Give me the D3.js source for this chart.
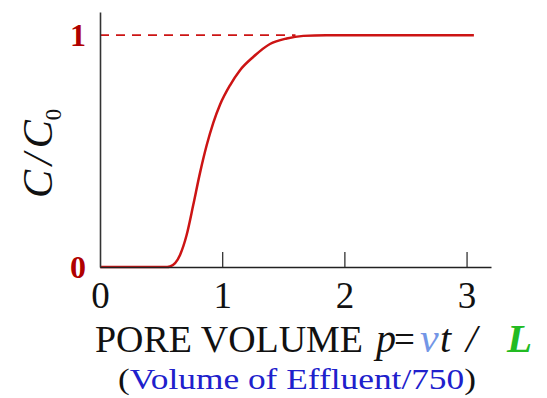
<!DOCTYPE html>
<html>
<head>
<meta charset="utf-8">
<script src="https://cdn.jsdelivr.net/npm/d3@7"></script>
<style>
  html, body { margin: 0; padding: 0; background: #fff; }
  svg { display: block; }
  text { font-family: "Liberation Serif", "Times New Roman", serif; }
</style>
</head>
<body>
<svg id="chart" width="547" height="398"></svg>
<script>
// Breakthrough curve: relative concentration vs. pore volumes
const poreVolume    = [0, 0.55, 0.573, 0.655, 0.709, 0.763, 0.818, 0.873, 0.927, 0.982, 1.064, 1.146, 1.254, 1.391, 1.528, 1.664, 1.85, 2.3, 2.8, 3.06];
const concentration = [0, 0,    0.002, 0.052, 0.138, 0.267, 0.405, 0.525, 0.622, 0.700, 0.784, 0.849, 0.906, 0.962, 0.986, 0.997, 1.0,  1.0, 1.0, 1.0];
const xTickValues = [0, 1, 2, 3];
const yTickValues = [0, 1];
const plateauLevel = 1;
const plateauDashEnd = 1.6;

const svg = d3.select("#chart");

const x = d3.scaleLinear().domain([0, 3.2]).range([100, 491]);
const y = d3.scaleLinear().domain([0, 1.1]).range([267, 12]);

const red = "#cc1414";
const darkRed = "#b00000";

// Dashed reference line at C/C0 = 1
svg.append("line")
  .attr("x1", x(0)).attr("x2", x(plateauDashEnd))
  .attr("y1", y(plateauLevel)).attr("y2", y(plateauLevel))
  .attr("stroke", red)
  .attr("stroke-width", 1.8)
  .attr("stroke-dasharray", "9,7");

// Curve
const pts = poreVolume.map((v, i) => [v, concentration[i]]);
svg.append("path")
  .datum(pts)
  .attr("fill", "none")
  .attr("stroke", red)
  .attr("stroke-width", 2.5)
  .attr("stroke-linejoin", "round")
  .attr("d", d3.line().x(d => x(d[0])).y(d => y(d[1])).curve(d3.curveMonotoneX));

// X axis
const xAxis = svg.append("g")
  .attr("transform", `translate(0,${y(0)})`)
  .call(d3.axisBottom(x).tickValues(xTickValues).tickFormat(d3.format("d"))
    .tickSize(-15).tickSizeOuter(0).tickPadding(15));
xAxis.select(".domain").attr("stroke", "#222").attr("stroke-width", 1.6);
xAxis.selectAll(".tick line").attr("stroke", "#333").attr("stroke-width", 1.3)
  .filter(d => d === 0).remove();
xAxis.selectAll(".tick text")
  .attr("font-family", "Liberation Serif, serif")
  .attr("font-size", 37)
  .attr("fill", "#111");

// Y axis
const yAxis = svg.append("g")
  .attr("transform", `translate(${x(0)},0)`)
  .call(d3.axisLeft(y).tickValues(yTickValues).tickFormat(d3.format("d"))
    .tickSize(0).tickSizeOuter(0).tickPadding(14));
yAxis.select(".domain").attr("stroke", "#333").attr("stroke-width", 1.6);
yAxis.selectAll(".tick text")
  .attr("font-family", "Liberation Serif, serif")
  .attr("font-size", 32)
  .attr("font-weight", "bold")
  .attr("fill", darkRed);

// Y axis title: C / C0
const yTitle = svg.append("text")
  .attr("transform", "translate(52,198) rotate(-90)")
  .attr("font-size", 42)
  .attr("font-style", "italic")
  .attr("fill", "#111");
yTitle.append("tspan").text("C");
yTitle.append("tspan").attr("dx", 5).text("/");
yTitle.append("tspan").attr("dx", 5).text("C");
yTitle.append("tspan").attr("font-size", 23).attr("font-style", "normal").attr("dy", 9).text("0");

// X axis title
svg.append("text")
  .attr("x", 95).attr("y", 352)
  .attr("font-size", 37)
  .attr("fill", "#111")
  .attr("textLength", 268)
  .attr("lengthAdjust", "spacingAndGlyphs")
  .text("PORE VOLUME");

const formula = svg.append("text")
  .attr("y", 352)
  .attr("font-size", 38)
  .attr("fill", "#111");
formula.append("tspan").attr("x", 376).attr("font-style", "italic").attr("font-size", 40).text("p");
formula.append("tspan").attr("x", 394).attr("font-size", 37).text("=");
formula.append("tspan").attr("x", 420).attr("font-style", "italic").attr("font-size", 42).attr("fill", "#7396e6").text("v");
formula.append("tspan").attr("x", 440).attr("font-style", "italic").attr("font-size", 40).text("t");
formula.append("tspan").attr("x", 466).attr("font-style", "italic").attr("font-size", 40).text("/");
formula.append("tspan").attr("x", 507).attr("font-style", "italic").attr("font-weight", "bold").attr("font-size", 41).attr("fill", "#22bb22").text("L");

// Second line of the x title
const sub = svg.append("text")
  .attr("x", 118).attr("y", 389)
  .attr("font-size", 30)
  .attr("fill", "#111")
  .attr("textLength", 358)
  .attr("lengthAdjust", "spacingAndGlyphs");
sub.append("tspan").text("(");
sub.append("tspan").attr("fill", "#2020cc").text("Volume of Effluent/750");
sub.append("tspan").text(")");
</script>
</body>
</html>
